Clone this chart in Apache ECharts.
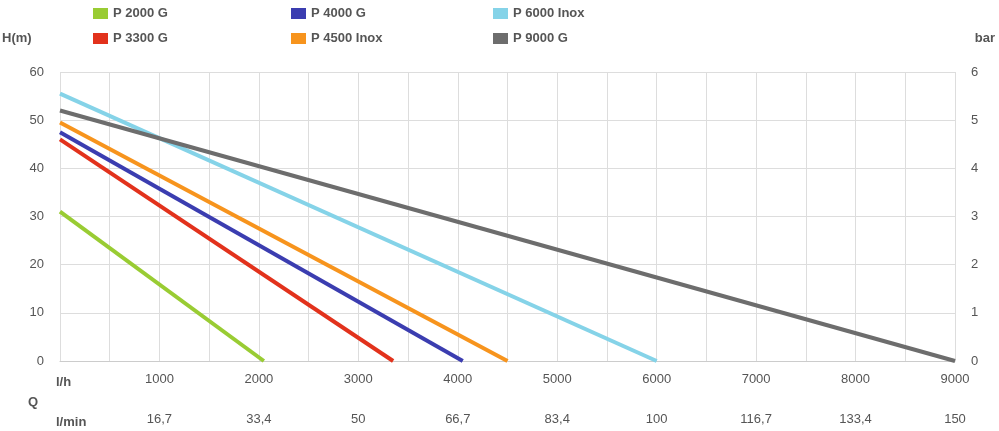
<!DOCTYPE html>
<html>
<head>
<meta charset="utf-8">
<script src="https://cdn.jsdelivr.net/npm/echarts@6/dist/echarts.min.js"></script>
<style>html,body{margin:0;padding:0;background:#fff}#main{width:999px;height:431px}</style>
</head>
<body>
<div id="main"></div>
<script>
// Pumpenkennlinien
var names = ['P 2000 G', 'P 3300 G', 'P 4000 G', 'P 4500 Inox', 'P 6000 Inox', 'P 9000 G'];
var colors = ['#99cc33', '#e2321c', '#3b3db0', '#f7941d', '#85d3e8', '#6d6d6d'];
var startHead = [31, 46, 47.5, 49.5, 55.5, 52];
var maxFlow = [2050, 3350, 4050, 4500, 6000, 9000];
var lminLabels = ['16,7', '33,4', '50', '66,7', '83,4', '100', '116,7', '133,4', '150'];

var mycharts = echarts.init(document.getElementById('main'));

var series = [];
for (var i = 0; i < names.length; i++) {
  series.push({
    name: names[i],
    type: 'line',
    symbol: 'none',
    data: [[0, startHead[i]], [maxFlow[i], 0]],
    lineStyle: { color: colors[i], width: 4 },
    itemStyle: { color: colors[i] }
  });
}

function legendCol(left, list) {
  return {
    orient: 'vertical',
    left: left,
    top: 2,
    itemWidth: 15,
    itemHeight: 11,
    itemGap: 12,
    icon: 'rect',
    data: list,
    textStyle: { color: '#555', fontWeight: 'bold', fontSize: 13, fontFamily: 'Liberation Sans' }
  };
}

var option = {
  animation: false,
  legend: [
    legendCol(88, [names[0], names[1]]),
    legendCol(286, [names[2], names[3]]),
    legendCol(488, [names[4], names[5]])
  ],
  grid: { left: 60, right: 44, top: 72, bottom: 70 },
  xAxis: [
    {
      type: 'value', min: 0, max: 9000, interval: 500,
      axisLine: { lineStyle: { color: '#ccc' } },
      axisTick: { show: false },
      splitLine: { lineStyle: { color: '#ddd' } },
      axisLabel: {
        color: '#555', fontSize: 13, fontFamily: 'Liberation Sans', margin: 12,
        formatter: function (v) { return (v > 0 && v % 1000 === 0) ? String(v) : ''; }
      }
    },
    {
      type: 'value', min: 0, max: 9000, interval: 500, position: 'bottom', offset: 40,
      axisLine: { show: false }, axisTick: { show: false }, splitLine: { show: false },
      axisLabel: {
        color: '#555', fontSize: 13, fontFamily: 'Liberation Sans', margin: 12,
        formatter: function (v) { return (v > 0 && v % 1000 === 0) ? lminLabels[v / 1000 - 1] : ''; }
      }
    }
  ],
  yAxis: [
    {
      type: 'value', min: 0, max: 60, interval: 10,
      axisLine: { show: false }, axisTick: { show: false },
      splitLine: { lineStyle: { color: '#ddd' } },
      axisLabel: { color: '#555', fontSize: 13, fontFamily: 'Liberation Sans', margin: 16 }
    },
    {
      type: 'value', min: 0, max: 6, interval: 1, position: 'right',
      axisLine: { show: false }, axisTick: { show: false }, splitLine: { show: false },
      axisLabel: { color: '#555', fontSize: 13, fontFamily: 'Liberation Sans', margin: 16 }
    }
  ],
  graphic: [
    { type: 'text', left: 2, top: 32, style: { text: 'H(m)', fill: '#555', font: 'bold 13px Liberation Sans' } },
    { type: 'text', right: 4, top: 32, style: { text: 'bar', fill: '#555', font: 'bold 13px Liberation Sans' } },
    { type: 'text', left: 56, top: 376, style: { text: 'l/h', fill: '#555', font: 'bold 13px Liberation Sans' } },
    { type: 'text', left: 28, top: 396, style: { text: 'Q', fill: '#555', font: 'bold 13px Liberation Sans' } },
    { type: 'text', left: 56, top: 416, style: { text: 'l/min', fill: '#555', font: 'bold 13px Liberation Sans' } }
  ],
  series: series
};

mycharts.setOption(option);
</script>
</body>
</html>
